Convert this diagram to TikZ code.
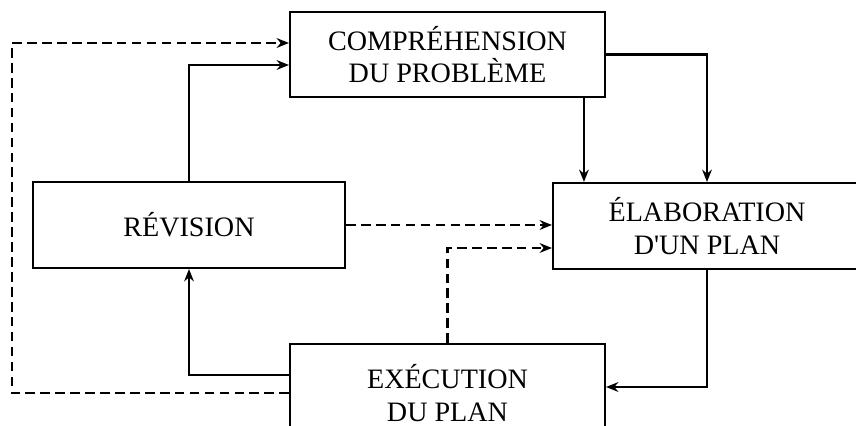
\documentclass[tikz,border=0pt]{standalone}
\usepackage{fontspec}
\setmainfont{Liberation Serif}
\usepackage{tikz}
\usetikzlibrary{arrows.meta, positioning, calc}

\begin{document}
\begin{tikzpicture}[
  x=0.02cm, y=-0.02cm,
  box/.style={rectangle, draw=black, line width=1.2pt, fill=white, align=center, font=\fontsize{16}{18.5}\selectfont},
  arrow/.style={->, >={Stealth[length=7pt, width=5.5pt]}, line width=1.2pt},
  dasharrow/.style={arrow, dash pattern=on 5.5pt off 3pt}
]
\fill[white] (0,0) rectangle (856,426);
\clip (0,0) rectangle (856,426);
\node[box, minimum width=6.3cm, minimum height=1.7cm] (comp) at (447.5,54.5) {COMPRÉHENSION\\DU PROBLÈME};
\node[box, minimum width=6.24cm, minimum height=1.72cm] (rev) at (189,225) {RÉVISION};
\node[box, minimum width=6.16cm, minimum height=1.72cm] (elab) at (707,226) {ÉLABORATION\\D\textquotesingle UN PLAN};
\node[box, minimum width=6.3cm, minimum height=1.96cm] (exec) at (447.5,393) {EXÉCUTION\\DU PLAN};
\coordinate (loop) at (12,393);
\coordinate (c1) at ($(elab.north west)+(32,0)$);
\draw[arrow] (rev.north) |- ($(comp.west)+(0,10.5)$);
\draw[dasharrow] (exec.west) -- (loop) |- ($(comp.west)+(0,-11.5)$);
\draw[arrow] (comp.south -| c1) -- (c1);
\draw[arrow] (comp.east) -| (elab.north);
\draw[dasharrow] (rev.east) -- (rev.east -| elab.west);
\draw[dasharrow] (exec.north) |- ($(elab.west)+(0,22)$);
\draw[arrow] (elab.south) |- ($(exec.east)+(0,-6)$);
\draw[arrow] ($(exec.west)+(0,-18)$) -| (rev.south);
\end{tikzpicture}
\end{document}
